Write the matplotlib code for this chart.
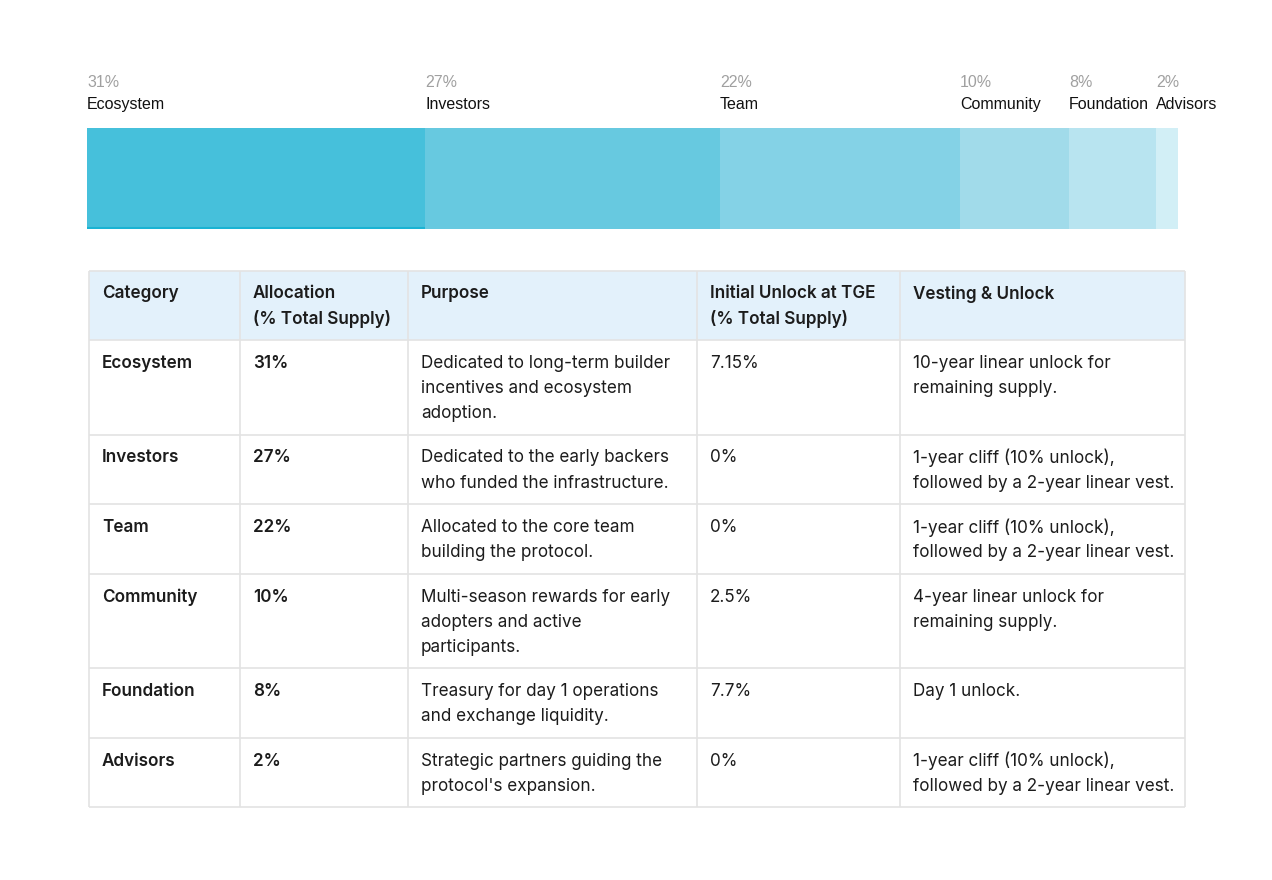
import numpy as np
import matplotlib
matplotlib.use("Agg")
from matplotlib import pyplot as plt
from matplotlib.patches import Rectangle

categories = ["Ecosystem", "Investors", "Team", "Community", "Foundation", "Advisors"]
allocation = [31, 27, 22, 10, 8, 2]
bar_colors = ["#46c0db", "#67c9e0", "#84d2e6", "#a1dbea", "#b8e4f0", "#d2eff6"]

headers = ["Category", "Allocation\n(% Total Supply)", "Purpose",
           "Initial Unlock at TGE\n(% Total Supply)", "Vesting & Unlock"]
purposes = [
    "Dedicated to long-term builder\nincentives and ecosystem\nadoption.",
    "Dedicated to the early backers\nwho funded the infrastructure.",
    "Allocated to the core team\nbuilding the protocol.",
    "Multi-season rewards for early\nadopters and active\nparticipants.",
    "Treasury for day 1 operations\nand exchange liquidity.",
    "Strategic partners guiding the\nprotocol's expansion.",
]
initial_unlock = ["7.15%", "0%", "0%", "2.5%", "7.7%", "0%"]
vesting = [
    "10-year linear unlock for\nremaining supply.",
    "1-year cliff (10% unlock),\nfollowed by a 2-year linear vest.",
    "1-year cliff (10% unlock),\nfollowed by a 2-year linear vest.",
    "4-year linear unlock for\nremaining supply.",
    "Day 1 unlock.",
    "1-year cliff (10% unlock),\nfollowed by a 2-year linear vest.",
]

W, H = 1272, 880
fig = plt.figure(figsize=(W / 100, H / 100), dpi=100)
fig.patch.set_facecolor("white")

# ---- stacked allocation bar ----
bx0, bx1, by0, by1 = 87, 1178, 128, 229
axb = fig.add_axes([bx0 / W, 1 - by1 / H, (bx1 - bx0) / W, (by1 - by0) / H])
lefts = np.concatenate([[0], np.cumsum(allocation)[:-1]])
axb.barh(0, allocation, left=lefts, height=1, color=bar_colors, linewidth=0)
axb.hlines(-0.49, 0, allocation[0], color="#1ab3d3", linewidth=1.5)
axb.set_xlim(0, sum(allocation))
axb.set_ylim(-0.5, 0.5)
axb.axis("off")
for name, val, l in zip(categories, allocation, lefts):
    axb.text(l, 1 + 46 / (by1 - by0), f"{val}%", color="#a0a0a0", fontsize=11.5,
             family="Liberation Sans", ha="left", va="center", transform=axb.get_xaxis_transform(),
             clip_on=False)
    axb.text(l, 1 + 24 / (by1 - by0), name, color="#111111", fontsize=11.5,
             family="Liberation Sans", ha="left", va="center", transform=axb.get_xaxis_transform(),
             clip_on=False)

# ---- table ----
ax = fig.add_axes([0, 0, 1, 1])
ax.set_xlim(0, W)
ax.set_ylim(H, 0)
ax.axis("off")

col_x = [89, 240, 408, 697, 900, 1185]
top = 271
line_h = 25.2
pad_x, pad_y = 13, 23
grid = "#e3e3e3"
font = "Inter"
fs = 12.3

rows = [headers] + [[c, f"{a}%", p, u, v] for c, a, p, u, v in
                    zip(categories, allocation, purposes, initial_unlock, vesting)]

y = top
for r, row in enumerate(rows):
    nlines = max(cell.count("\n") + 1 for cell in row)
    nlines = max(nlines, 2)
    h = 19.5 + 25 * nlines
    if r == 0:
        ax.add_patch(Rectangle((col_x[0], y), col_x[-1] - col_x[0], h,
                               facecolor="#e3f1fb", edgecolor="none"))
    for c, cell in enumerate(row):
        bold = r == 0 or c in (0, 1)
        for i, line in enumerate(cell.split("\n")):
            ax.text(col_x[c] + pad_x, y + pad_y + i * line_h, line,
                    family=font, fontsize=fs, color="#1c1c1c",
                    fontweight="semibold" if bold else "normal",
                    ha="left", va="center")
    ax.hlines(y, col_x[0], col_x[-1], color=grid, linewidth=1.2)
    y += h
ax.hlines(y, col_x[0], col_x[-1], color=grid, linewidth=1.2)
ax.vlines(col_x, top, y, color=grid, linewidth=1.2)

fig.savefig("out.png", dpi=100, facecolor="white")
